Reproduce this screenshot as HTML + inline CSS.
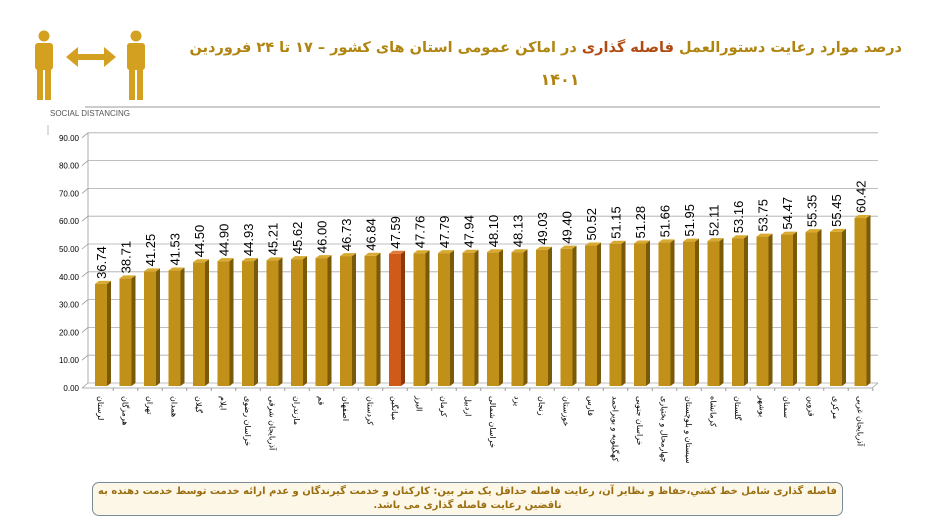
<!DOCTYPE html>
<html><head><meta charset="utf-8"><style>
body{margin:0;background:#fff;width:926px;height:520px;overflow:hidden;font-family:"Liberation Sans","DejaVu Sans",sans-serif}
svg{position:absolute;left:0;top:0}
.title{position:absolute;left:200px;width:702px;top:40px;direction:rtl;text-align:right;color:#b08410;font-weight:bold;font-size:14.5px;white-space:nowrap;font-family:"DejaVu Sans",sans-serif}
.t2{position:absolute;left:500px;width:120px;top:70px;text-align:center;color:#b08410;font-weight:bold;font-size:16px;font-family:"DejaVu Sans",sans-serif}
.note{position:absolute;left:92px;top:482px;width:751px;height:34px;border:1px solid #7a8a9a;border-radius:7px;background:#fdf7e8;box-sizing:border-box;direction:rtl;text-align:center;color:#9a6e10;font-weight:bold;font-size:10px;line-height:14px;padding-top:2px;white-space:nowrap;font-family:"DejaVu Sans","Noto Sans CJK SC",sans-serif}
</style></head><body>
<svg width="926" height="520" xmlns="http://www.w3.org/2000/svg">
<g fill="#d4a020">
 <circle cx="44" cy="36" r="5.5"/><rect x="35" y="43" width="18" height="27" rx="3"/><rect x="37" y="66" width="6" height="34"/><rect x="45" y="66" width="6" height="34"/>
 <circle cx="136" cy="36" r="5.5"/><rect x="127" y="43" width="18" height="27" rx="3"/><rect x="129" y="66" width="6" height="34"/><rect x="137" y="66" width="6" height="34"/>
 <polygon points="66,57 78,47 78,54 104,54 104,47 116,57 104,67 104,60 78,60 78,67"/>
</g>
<text x="90" y="116" font-size="8" fill="#555" text-anchor="middle">SOCIAL DISTANCING</text>
<line x1="85" y1="107" x2="880" y2="107" stroke="#999" stroke-width="1"/>
<line x1="48" y1="125" x2="48" y2="135" stroke="#bbb"/>
<g id="grid" stroke="#999" stroke-width="0.8" fill="none"></g>
<g id="bars"></g>
</svg>
<div class="title">درصد موارد رعایت دستورالعمل <span style="color:#b04a10">فاصله گذاری</span> در اماکن عمومی استان های کشور – ۱۷ تا ۲۴ فروردین</div>
<div class="t2">۱۴۰۱</div>
<div class="note">فاصله گذاری شامل خط کشي،حفاظ و نظایر آن، رعایت فاصله حداقل یک متر بین: کارکنان و خدمت گیرندگان و عدم ارائه خدمت توسط خدمت دهنده به<br>ناقضین رعایت فاصله گذاری می باشد.</div>
<script>
const d=[["لرستان",36.74],["هرمزگان",38.71],["تهران",41.25],["همدان",41.53],["گیلان",44.50],["ایلام",44.90],["خراسان رضوی",44.93],["آذربایجان شرقی",45.21],["مازندران",45.62],["قم",46.00],["اصفهان",46.73],["کردستان",46.84],["میانگین",47.59],["البرز",47.76],["کرمان",47.79],["اردبیل",47.94],["خراسان شمالی",48.10],["یزد",48.13],["زنجان",49.03],["خوزستان",49.40],["فارس",50.52],["کهگیلویه و بویراحمد",51.15],["خراسان جنوبی",51.28],["چهارمحال و بختیاری",51.66],["سیستان و بلوچستان",51.95],["کرمانشاه",52.11],["گلستان",53.16],["بوشهر",53.75],["سمنان",54.47],["قزوین",55.35],["مرکزی",55.45],["آذربایجان غربی",60.42]];
const NS="http://www.w3.org/2000/svg";
function el(p,t,a,txt){const e=document.createElementNS(NS,t);for(const k in a)e.setAttribute(k,a[k]);if(txt!==undefined)e.textContent=txt;p.appendChild(e);return e;}
const svg=document.querySelector("svg"),g=document.getElementById("grid"),b=document.getElementById("bars");
const y0=388,k=2.78;
for(let v=0;v<=90;v+=10){const y=y0-v*k;
 el(svg,"text",{x:79,y:y+3,"font-size":8,"text-anchor":"end",fill:"#000"},v.toFixed(2));
 el(g,"line",{x1:82,y1:y,x2:88,y2:y-5});
 el(g,"line",{x1:88,y1:y-5,x2:878,y2:y-5,stroke:"#aaa"});}
el(g,"line",{x1:88,y1:y0-5,x2:88,y2:y0-90*k-5});
el(g,"line",{x1:82,y1:y0,x2:872,y2:y0});
el(g,"line",{x1:872,y1:y0,x2:878,y2:y0-5});
d.forEach((r,i)=>{const cx=101+i*24.5,h=r[1]*k,top=y0-2-h,w=12;
 const c=i==12?"#d05a18":"#c09018",s=i==12?"#8a3a0c":"#7a5a08",t=i==12?"#e07a38":"#d8aa30";
 el(b,"rect",{x:cx-w/2,y:top,width:w,height:h,fill:c});
 el(b,"polygon",{points:`${cx+w/2},${top} ${cx+w/2+4},${top-3} ${cx+w/2+4},${y0-5} ${cx+w/2},${y0-2}`,fill:s});
 el(b,"polygon",{points:`${cx-w/2},${top} ${cx-w/2+4},${top-3} ${cx+w/2+4},${top-3} ${cx+w/2},${top}`,fill:t});
 el(b,"line",{x1:cx+12.25,y1:y0,x2:cx+12.25,y2:y0+3,stroke:"#999"});
 el(b,"text",{x:0,y:0,"font-size":13,fill:"#000",transform:`translate(${cx+5},${top-5}) rotate(-90)`},r[1].toFixed(2));
 el(b,"text",{x:0,y:0,"font-size":8,fill:"#000","font-family":"DejaVu Sans,sans-serif",transform:`translate(${cx-3},${y0+8}) rotate(90)`,direction:"rtl","text-anchor":"end"},r[0]);
});
</script>
</body></html>
